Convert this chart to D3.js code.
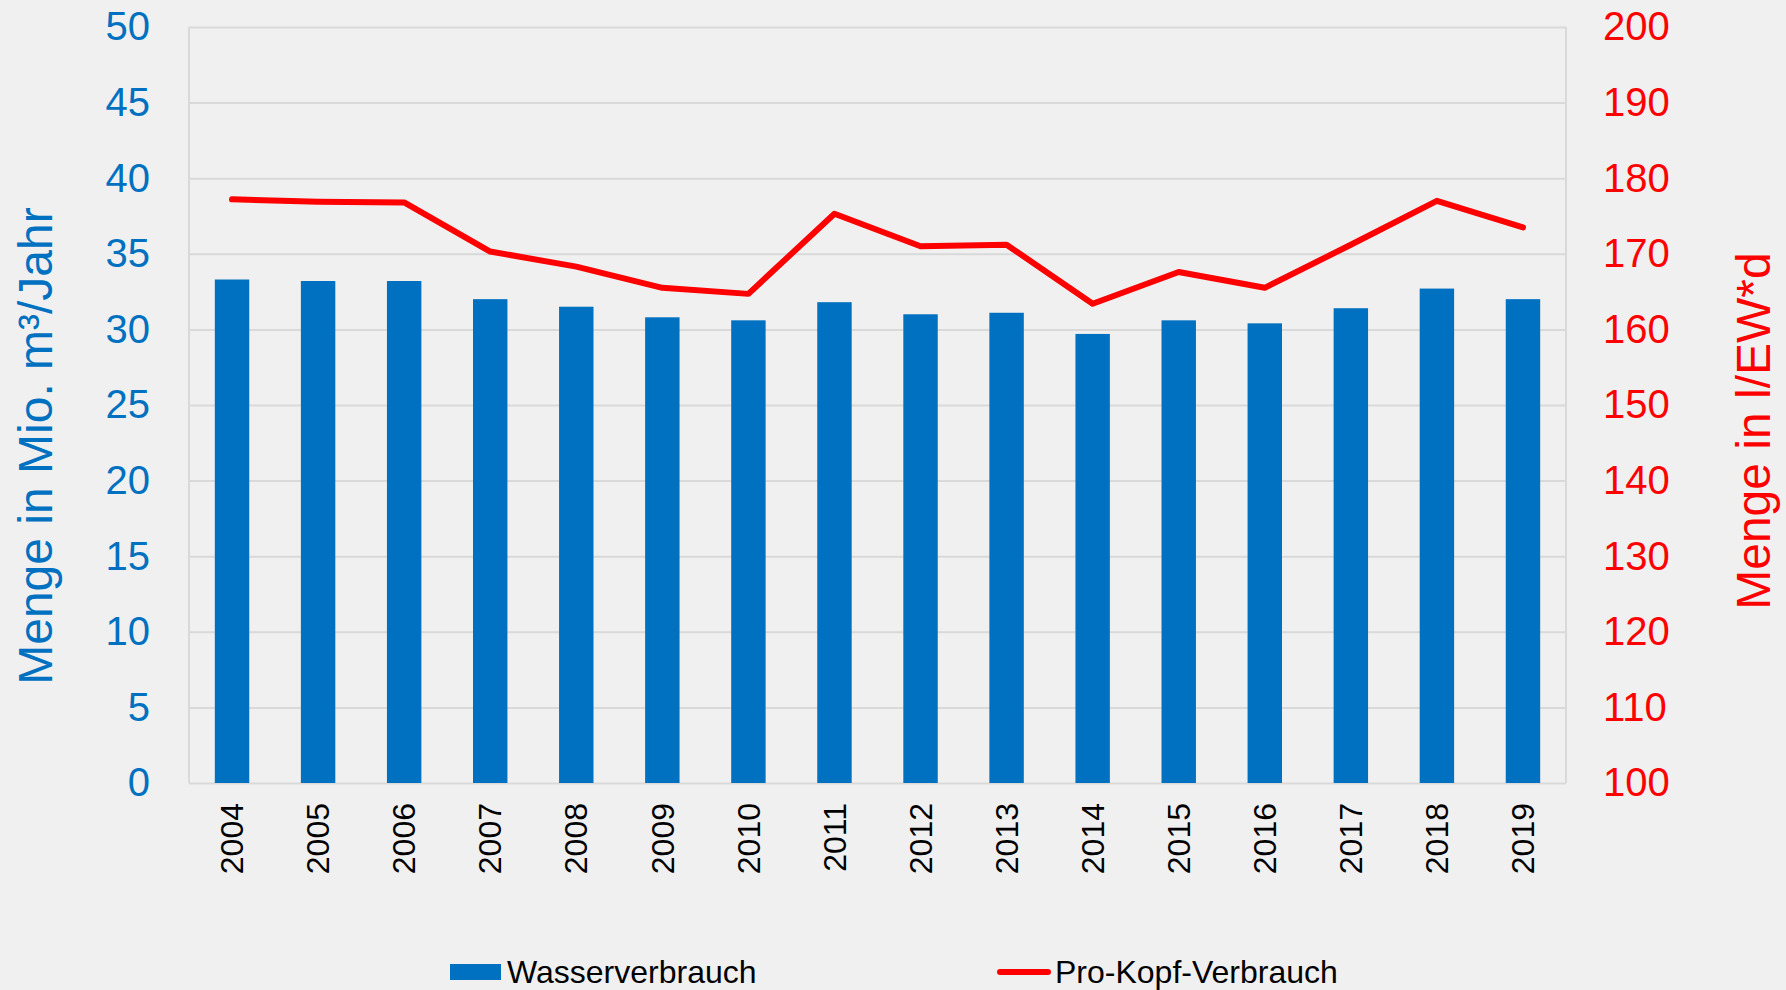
<!DOCTYPE html>
<html>
<head>
<meta charset="utf-8">
<script src="https://cdn.jsdelivr.net/npm/d3@7"></script>
<style>
  body { margin: 0; background: #f0f0f0; }
  text { font-family: "Liberation Sans", Arial, sans-serif; }
</style>
</head>
<body>
<div id="viz"></div>
<script>
const years = ["2004", "2005", "2006", "2007", "2008", "2009", "2010", "2011",
               "2012", "2013", "2014", "2015", "2016", "2017", "2018", "2019"];
const wasserverbrauch = [33.3, 33.2, 33.2, 32.0, 31.5, 30.8, 30.6, 31.8,
                         31.0, 31.1, 29.7, 30.6, 30.4, 31.4, 32.7, 32.0];
const proKopf = [177.2, 176.9, 176.8, 170.3, 168.3, 165.5, 164.7, 175.3,
                 171.0, 171.2, 163.4, 167.6, 165.5, 171.2, 177.0, 173.5];
const leftTicks = [0, 5, 10, 15, 20, 25, 30, 35, 40, 45, 50];
const rightTicks = [100, 110, 120, 130, 140, 150, 160, 170, 180, 190, 200];
const legendLabels = ["Wasserverbrauch", "Pro-Kopf-Verbrauch"];

const blue = "#0070c0";
const red = "#ff0000";
const grid = "#d9d9d9";

const width = 1786;
const height = 990;

const margin = { left: 189, right: 220, top: 27, bottom: 207 };

const svg = d3.select("#viz").append("svg")
    .attr("width", width)
    .attr("height", height);

svg.append("rect")
    .attr("width", width)
    .attr("height", height)
    .attr("fill", "#f0f0f0");

const xScale = d3.scaleBand()
    .domain(years)
    .range([margin.left, width - margin.right])
    .padding(0);

const yLeft = d3.scaleLinear()
    .domain([0, 50])
    .range([height - margin.bottom, margin.top]);

const yRight = d3.scaleLinear()
    .domain([100, 200])
    .range([height - margin.bottom, margin.top]);

// gridlines
svg.append("g")
    .attr("class", "grid")
    .attr("transform", `translate(${margin.left},0)`)
    .call(d3.axisLeft(yLeft).tickValues(leftTicks).tickSize(-(width - margin.left - margin.right)).tickFormat(""))
    .call(g => g.select(".domain").remove())
    .call(g => g.selectAll("line").attr("stroke", grid).attr("stroke-width", 2));

// plot border (left / right)
svg.append("g")
    .selectAll("line")
    .data([margin.left, width - margin.right])
    .join("line")
        .attr("x1", d => d)
        .attr("x2", d => d)
        .attr("y1", margin.top)
        .attr("y2", height - margin.bottom)
        .attr("stroke", grid)
        .attr("stroke-width", 2);

// bars
const barWidth = xScale.bandwidth() * 0.4;
svg.selectAll(".bar")
    .data(years.map((y, i) => ({ year: y, value: wasserverbrauch[i] })))
    .join("rect")
        .attr("class", "bar")
        .attr("x", d => xScale(d.year) + xScale.bandwidth() / 2 - barWidth / 2)
        .attr("y", d => yLeft(d.value))
        .attr("width", barWidth)
        .attr("height", d => yLeft(0) - yLeft(d.value))
        .attr("fill", blue);

// line
const line = d3.line()
    .x(d => xScale(d.year) + xScale.bandwidth() / 2)
    .y(d => yRight(d.value));

svg.append("path")
    .datum(years.map((y, i) => ({ year: y, value: proKopf[i] })))
    .attr("d", line)
    .attr("fill", "none")
    .attr("stroke", red)
    .attr("stroke-width", 6)
    .attr("stroke-linejoin", "round")
    .attr("stroke-linecap", "round");

// left axis
svg.append("g")
    .attr("transform", `translate(${margin.left - 39},0)`)
    .call(d3.axisLeft(yLeft).tickValues(leftTicks).tickSize(0).tickPadding(0))
    .call(g => g.select(".domain").remove())
    .call(g => g.selectAll("text")
        .attr("fill", blue)
        .style("font-size", "40px")
        .style("font-family", "'Liberation Sans', Arial, sans-serif"));

// right axis
svg.append("g")
    .attr("transform", `translate(${width - margin.right + 37},0)`)
    .call(d3.axisRight(yRight).tickValues(rightTicks).tickSize(0).tickPadding(0))
    .call(g => g.select(".domain").remove())
    .call(g => g.selectAll("text")
        .attr("fill", red)
        .style("font-size", "40px")
        .style("font-family", "'Liberation Sans', Arial, sans-serif"));

// x labels
svg.append("g")
    .attr("transform", `translate(0,${height - margin.bottom})`)
    .call(d3.axisBottom(xScale).tickSize(0).tickPadding(0))
    .call(g => g.select(".domain").remove())
    .call(g => g.selectAll("text")
        .attr("fill", "black")
        .attr("transform", "rotate(-90)")
        .attr("x", -20)
        .attr("y", 0)
        .attr("dy", "0.35em")
        .style("text-anchor", "end")
        .style("font-size", "32px")
        .style("font-family", "'Liberation Sans', Arial, sans-serif"));

// axis titles
svg.append("text")
    .attr("transform", "translate(52,446) rotate(-90)")
    .style("text-anchor", "middle")
    .style("font-size", "48px")
    .attr("fill", blue)
    .text("Menge in Mio. m³/Jahr");

svg.append("text")
    .attr("transform", "translate(1770,431) rotate(-90)")
    .style("text-anchor", "middle")
    .style("font-size", "48px")
    .attr("fill", red)
    .text("Menge in l/EW*d");

// legend
const legendX = [450, 998];
const gLegend = svg.selectAll(".legend")
    .data(legendLabels)
    .join("g")
        .attr("class", "legend")
        .attr("transform", (d, i) => `translate(${legendX[i]},972)`);

gLegend.filter((d, i) => i === 0)
    .append("rect")
        .attr("x", 0)
        .attr("y", -8)
        .attr("width", 51)
        .attr("height", 16)
        .attr("fill", blue);

gLegend.filter((d, i) => i === 1)
    .append("line")
        .attr("x1", 2)
        .attr("x2", 50)
        .attr("y1", 0)
        .attr("y2", 0)
        .attr("stroke", red)
        .attr("stroke-width", 6)
        .attr("stroke-linecap", "round");

gLegend.append("text")
    .attr("x", 57)
    .attr("y", 11)
    .style("font-size", "32px")
    .attr("fill", "black")
    .text(d => d);
</script>
</body>
</html>
